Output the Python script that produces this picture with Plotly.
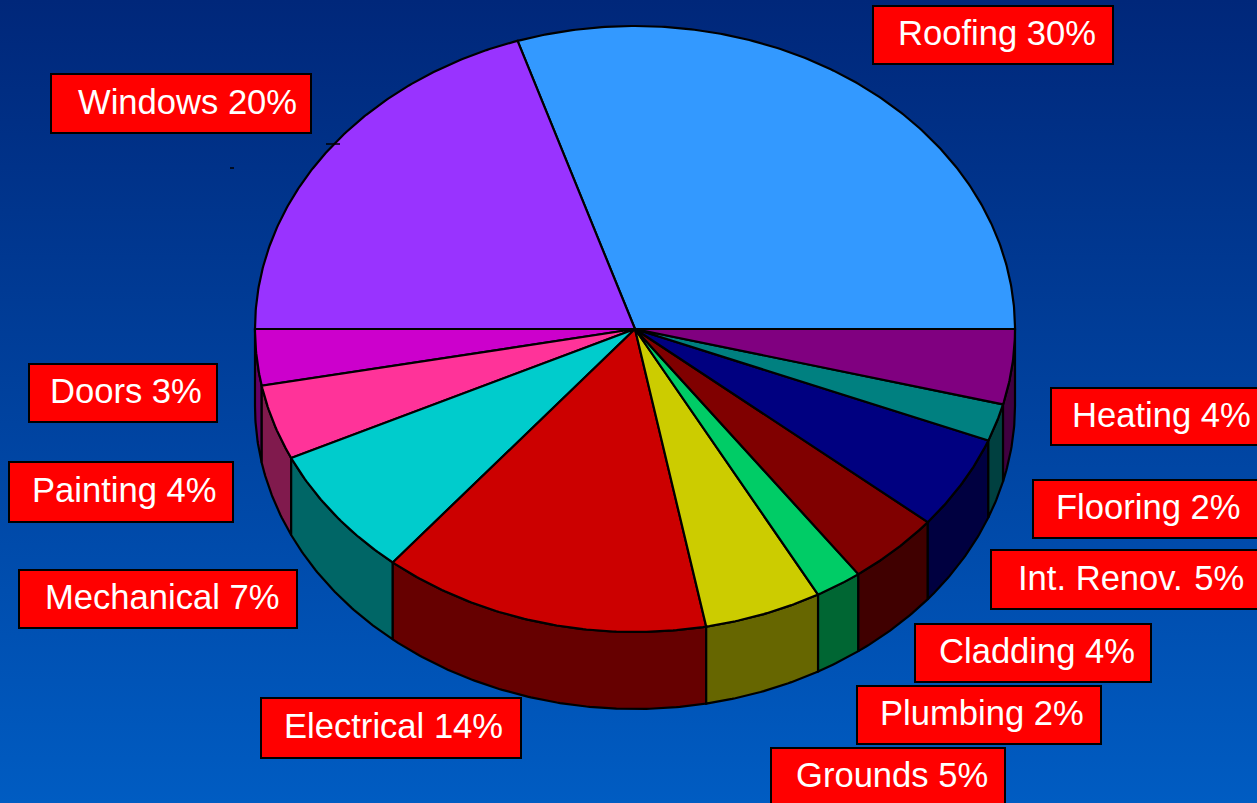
import numpy as np
import plotly.graph_objects as go

# Budget shares, in drawing order counter-clockwise from the east edge of the disc
categories = ["Roofing", "Windows", "Doors", "Painting", "Mechanical", "Electrical",
              "Grounds", "Plumbing", "Cladding", "Int. Renov.", "Flooring", "Heating"]
shares = [30, 20, 3, 4, 7, 14, 5, 2, 4, 5, 2, 4]
top_colors = ["#3399FF", "#9933FF", "#CC00CC", "#FF3399", "#00CCCC", "#CC0000",
              "#CCCC00", "#00CC66", "#800000", "#000080", "#008080", "#800080"]
side_colors = ["#1A4D80", "#4D1A80", "#660066", "#801A4D", "#006666", "#660000",
               "#666600", "#006633", "#400000", "#000040", "#004040", "#400040"]

# Label boxes (left, top, right, bottom) and the x where each text starts
label_boxes = {
    "Roofing": (873, 6, 1113, 64, 898),
    "Windows": (51, 74, 311, 133, 78),
    "Doors": (29, 364, 217, 422, 50),
    "Painting": (9, 462, 233, 522, 32),
    "Mechanical": (19, 570, 297, 628, 45),
    "Electrical": (261, 698, 521, 758, 284),
    "Grounds": (771, 748, 1005, 806, 796),
    "Plumbing": (857, 686, 1101, 744, 880),
    "Cladding": (915, 624, 1151, 682, 939),
    "Int. Renov.": (991, 550, 1259, 609, 1018),
    "Flooring": (1033, 480, 1259, 538, 1056),
    "Heating": (1051, 388, 1259, 445, 1072),
}
label_gaps = {"Int. Renov.": "\u2004"}

WIDTH, HEIGHT = 1257, 803
CX, CY, RX, RY, DEPTH = 635, 329, 380, 303, 77


def rim(start, stop, drop=0):
    """Points along the disc edge between two angles, in degrees."""
    t = np.radians(np.linspace(start, stop, max(int(abs(stop - start) * 2), 2) + 1))
    return CX + RX * np.cos(t), CY + drop - RY * np.sin(t)


fig = go.Figure()

# Vertical background wash
fig.add_trace(go.Scatter(
    x=[0, WIDTH, WIDTH, 0, 0], y=[0, 0, HEIGHT, HEIGHT, 0],
    mode="none", fill="toself",
    fillgradient=dict(type="vertical", start=0, stop=HEIGHT,
                      colorscale=[[0, "#00277A"], [1, "#005CC2"]]),
    hoverinfo="skip", showlegend=False,
))

edges = 360 * np.cumsum([0] + shares) / sum(shares)

# Outer wall of the disc, only where it faces the viewer
for name, start, stop, color in zip(categories, edges[:-1], edges[1:], side_colors):
    lo, hi = max(start, 180), min(stop, 360)
    if hi <= lo:
        continue
    xa, ya = rim(lo, hi)
    xb, yb = rim(hi, lo, DEPTH)
    fig.add_trace(go.Scatter(
        x=np.r_[xa, xb, xa[0]], y=np.r_[ya, yb, ya[0]],
        mode="lines", fill="toself", fillcolor=color,
        line=dict(color="#000000", width=2.2), hoverinfo="skip", showlegend=False,
    ))

# Top face of every slice
for name, start, stop, color in zip(categories, edges[:-1], edges[1:], top_colors):
    xa, ya = rim(start, stop)
    fig.add_trace(go.Scatter(
        x=np.r_[CX, xa, CX], y=np.r_[CY, ya, CY],
        mode="lines", fill="toself", fillcolor=color,
        line=dict(color="#000000", width=2.2), name=name, showlegend=False,
        hovertemplate=f"{name}<extra></extra>",
    ))

# Stray marks beside the Windows slice
for xs, ys in [((326, 340), (144, 144)), ((230, 234), (168, 168))]:
    fig.add_trace(go.Scatter(x=xs, y=ys, mode="lines", line=dict(color="#000000", width=1.5),
                             hoverinfo="skip", showlegend=False))

shapes, annotations = [], []
for name, share in zip(categories, shares):
    x0, y0, x1, y1, text_x = label_boxes[name]
    shapes.append(dict(type="rect", xref="x", yref="y", x0=x0, y0=y0, x1=x1, y1=y1,
                       fillcolor="#FF0000", line=dict(color="#000000", width=2)))
    gap = label_gaps.get(name, " ")
    annotations.append(dict(
        x=text_x, y=(y0 + y1) / 2 - 2, xref="x", yref="y",
        text=f"{name}{gap}{share}%", showarrow=False,
        xanchor="left", yanchor="middle", xshift=-2,
        font=dict(family="Liberation Sans", size=34.6, color="#FFFFFF"),
    ))

fig.update_layout(
    width=WIDTH, height=HEIGHT, margin=dict(l=0, r=0, t=0, b=0),
    paper_bgcolor="#00409A", plot_bgcolor="#00409A",
    xaxis=dict(range=[0, WIDTH], visible=False, fixedrange=True),
    yaxis=dict(range=[HEIGHT, 0], visible=False, fixedrange=True),
    shapes=shapes, annotations=annotations, showlegend=False,
)

fig.write_html("out.html", config={"displayModeBar": False})
